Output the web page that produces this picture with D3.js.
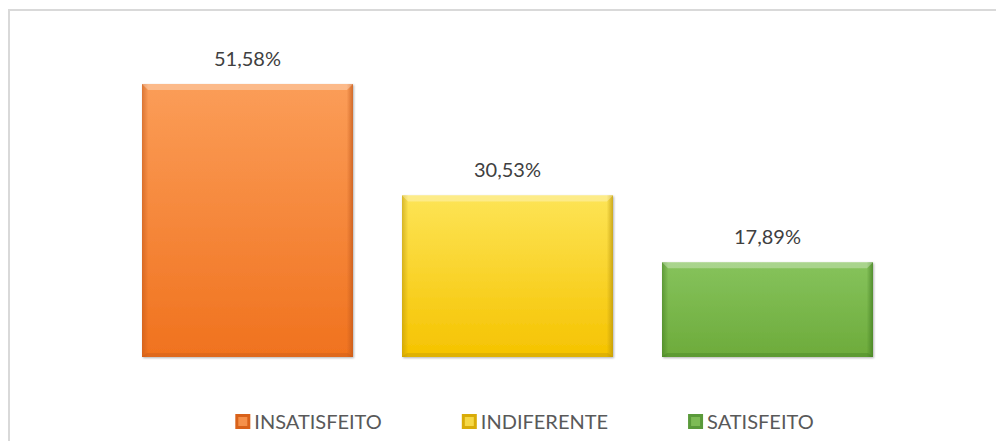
<!DOCTYPE html>
<html lang="pt">
  <head>
    <meta charset="UTF-8" />
    <title>Satisfação</title>
    <style>
      body {
        margin: 0;
        background: #fff;
      }
      svg text {
        font-family: Lato, "Open Sans", sans-serif;
      }
    </style>
    <script src="https://d3js.org/d3.v7.min.js"></script>
  </head>
  <body>
    <div id="chart"></div>
    <script>
      const categories = ["INSATISFEITO", "INDIFERENTE", "SATISFEITO"];
      const values = [51.58, 30.53, 17.89];
      const labels = ["51,58%", "30,53%", "17,89%"];
      // top, bottom, dark edge, legend swatch
      const colors = [
        ["#fb9d58", "#f0721e", "#c0571a", "#d9621a"],
        ["#fde456", "#f5c300", "#b8930a", "#d9ac08"],
        ["#86c35c", "#6dab3b", "#3f7a1f", "#5a9a3a"],
      ];

      const W = 996,
        H = 441;
      const base = 357;

      const svg = d3
        .select("#chart")
        .append("svg")
        .attr("width", W)
        .attr("height", H);

      const defs = svg.append("defs");

      // frame (top and left only are visible in the crop)
      svg
        .append("path")
        .attr("d", `M9,${H} L9,10 L${W},10`)
        .attr("fill", "none")
        .attr("stroke", "#d9d9d9")
        .attr("stroke-width", 2);

      const x = d3
        .scaleBand()
        .domain(categories)
        .range([117.5, 897.5])
        .paddingInner(49 / 260)
        .paddingOuter(49 / 520);

      const y = d3.scaleLinear().domain([0, 60]).range([base, base - 60 * 5.293]);

      const shadow = defs
        .append("filter")
        .attr("id", "shadow")
        .attr("x", "-10%")
        .attr("y", "-10%")
        .attr("width", "120%")
        .attr("height", "120%");
      shadow
        .append("feDropShadow")
        .attr("dx", 1)
        .attr("dy", 1)
        .attr("stdDeviation", 1.2)
        .attr("flood-color", "#000")
        .attr("flood-opacity", 0.3);

      categories.forEach((c, i) => {
        const g = defs
          .append("linearGradient")
          .attr("id", "grad" + i)
          .attr("x1", 0)
          .attr("y1", 0)
          .attr("x2", 0)
          .attr("y2", 1);
        g.append("stop").attr("offset", "0%").attr("stop-color", colors[i][0]);
        g.append("stop").attr("offset", "100%").attr("stop-color", colors[i][1]);

        const e = defs
          .append("linearGradient")
          .attr("id", "edge" + i)
          .attr("x1", 0)
          .attr("y1", 0)
          .attr("x2", 1)
          .attr("y2", 0);
        e.append("stop").attr("offset", "0%").attr("stop-color", colors[i][2]).attr("stop-opacity", 0.55);
        e.append("stop").attr("offset", "3%").attr("stop-color", colors[i][2]).attr("stop-opacity", 0);
        e.append("stop").attr("offset", "97%").attr("stop-color", colors[i][2]).attr("stop-opacity", 0);
        e.append("stop").attr("offset", "100%").attr("stop-color", colors[i][2]).attr("stop-opacity", 0.7);
      });

      const bars = svg
        .selectAll(".bar")
        .data(categories)
        .enter()
        .append("g")
        .attr("class", "bar");

      bars
        .append("rect")
        .attr("x", (d) => x(d))
        .attr("y", (d, i) => y(values[i]))
        .attr("width", x.bandwidth())
        .attr("height", (d, i) => base - y(values[i]))
        .attr("fill", (d, i) => `url(#grad${i})`)
        .attr("filter", "url(#shadow)");

      bars
        .append("rect")
        .attr("x", (d) => x(d))
        .attr("y", (d, i) => y(values[i]))
        .attr("width", x.bandwidth())
        .attr("height", (d, i) => base - y(values[i]))
        .attr("fill", (d, i) => `url(#edge${i})`);

      // top bevel highlight
      bars
        .append("path")
        .attr("d", (d, i) => {
          const x0 = x(d),
            x1 = x(d) + x.bandwidth(),
            t = y(values[i]);
          return `M${x0},${t} L${x1},${t} L${x1 - 6},${t + 6} L${x0 + 6},${t + 6} Z`;
        })
        .attr("fill", "#fff")
        .attr("opacity", 0.3);

      // bottom bevel shade
      bars
        .append("path")
        .attr("d", (d) => {
          const x0 = x(d),
            x1 = x(d) + x.bandwidth();
          return `M${x0},${base} L${x1},${base} L${x1 - 5},${base - 4} L${x0 + 5},${base - 4} Z`;
        })
        .attr("fill", (d, i) => colors[i][2])
        .attr("opacity", 0.35);

      bars
        .append("text")
        .attr("x", (d) => x(d) + x.bandwidth() / 2)
        .attr("y", (d, i) => y(values[i]) - 18)
        .attr("text-anchor", "middle")
        .attr("font-size", 20)
        .attr("fill", "#404040")
        .text((d, i) => labels[i]);

      // legend
      const legend = svg.append("g");
      const items = legend
        .selectAll(".item")
        .data(categories)
        .enter()
        .append("g")
        .attr("class", "item");
      items
        .append("text")
        .attr("x", 19)
        .attr("y", 15)
        .attr("font-size", 20)
        .attr("fill", "#595959")
        .text((d) => d);
      items
        .append("rect")
        .attr("width", 15)
        .attr("height", 15)
        .attr("fill", (d, i) => colors[i][3]);
      items
        .append("rect")
        .attr("x", 3)
        .attr("y", 3)
        .attr("width", 9)
        .attr("height", 9)
        .attr("fill", (d, i) => colors[i][0])
        .attr("opacity", 0.8);

      let cx = 0;
      items.each(function () {
        const w = this.getBBox().width;
        d3.select(this).attr("transform", `translate(${cx},0)`);
        cx += w + 80;
      });
      const total = cx - 80;
      legend.attr("transform", `translate(${524.5 - total / 2},414)`);
    </script>
  </body>
</html>
